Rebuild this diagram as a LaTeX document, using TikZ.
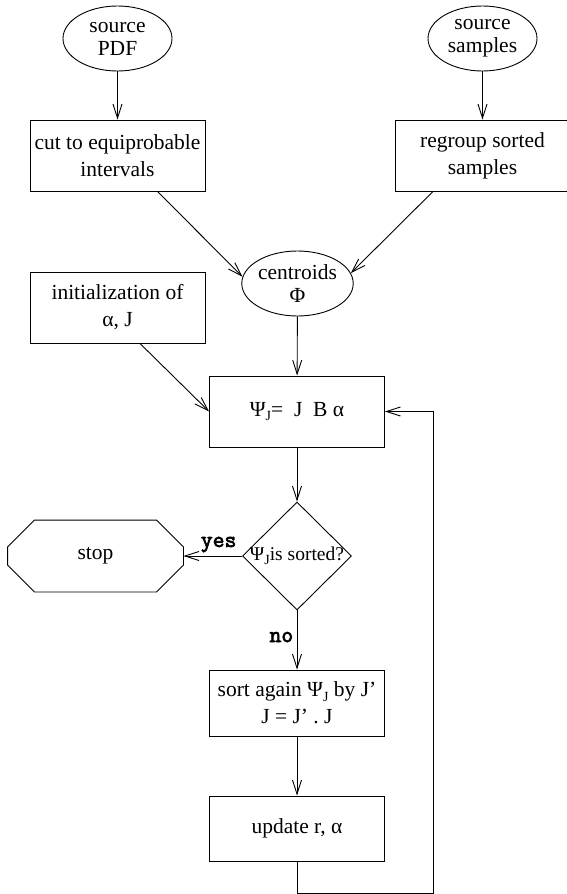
\documentclass[tikz,border=0pt]{standalone}
\usepackage{fontspec}
\setmainfont{Liberation Serif}
\newfontfamily\answerfont{Latin Modern Mono}[FakeBold=3]
\usetikzlibrary{arrows.meta,shapes.geometric}
\newcommand{\subj}{\raisebox{-0.5ex}{\fontsize{14}{14}\selectfont J}}

\begin{document}
\begin{tikzpicture}[x=1pt,y=-1pt,line width=0.9pt,>={Straight Barb[length=14pt,width=9pt]}]
	\tikzstyle{every node}=[font=\fontsize{21.5}{27}\selectfont]
	\tikzstyle{source}=[ellipse,draw=black,minimum width=109pt,minimum height=65pt,inner sep=0pt,align=center,font=\fontsize{21.5}{23}\selectfont]
	\tikzstyle{block}=[rectangle,draw=black,minimum width=175pt,minimum height=71pt,inner sep=2pt,align=center]
	\tikzstyle{decision}=[diamond,draw=black,minimum width=109pt,minimum height=108pt,inner sep=0pt]
	\tikzstyle{answer}=[font=\fontsize{23}{23}\selectfont\answerfont]
	\useasboundingbox (0,0) rectangle (567,894);
	\node[source] (pdf) at (117.5,38.5) {source\\PDF};
	\node[source] (samp) at (482.5,38.5) {source\\samples};
	\node[block] (cut) at (117.5,155.5) {cut to equiprobable\\intervals};
	\node[block] (regroup) at (482.5,155.5) {regroup sorted\\samples};
	\node[source] (centroids) at (297.5,283.5) {centroids\\Φ};
	\node[block] (init) at (117.5,307.5) {initialization of\\α, J};
	\node[block] (psi) at (297,411.5) {Ψ\subj= \ J \ B α};
	\node[decision,label={[font=\fontsize{19.5}{20}\selectfont,inner sep=0pt]center:Ψ\subj is sorted?}] (test) at (297,556) {};
	\node[minimum width=175pt,minimum height=71pt,inner sep=0pt] (stop) at (95.5,556) {stop};
	\node[block,minimum height=66pt] (sort) at (297,703) {sort again Ψ\subj\ by J’\\J = J’ . J};
	\node[block,minimum height=65pt] (update) at (297,828.5) {update r, α};
	\coordinate (loop) at (433,893);
	\draw ([xshift=27pt]stop.north west) -- ([xshift=-27pt]stop.north east) -- ([yshift=-27pt]stop.north east) -- ([yshift=27pt]stop.south east) -- ([xshift=-27pt]stop.south east) -- ([xshift=27pt]stop.south west) -- ([yshift=27pt]stop.south west) -- ([yshift=-27pt]stop.north west) -- cycle;
	\draw[->] (pdf) -- (cut);
	\draw[->] (samp) -- (regroup);
	\draw[->] (cut.-42.7) -- (centroids.173);
	\draw[->] (regroup.-144.4) -- (centroids.11);
	\draw[->] (centroids) -- (psi);
	\draw[->] (init.-58.8) -- (psi.west);
	\draw[->] (psi) -- (test);
	\draw[->] (test) -- node[answer,above,pos=0.4] {yes} (stop);
	\draw[->] (test) -- node[answer,left,pos=0.45] {no} (sort);
	\draw[->] (sort) -- (update);
	\draw[->] (update) |- (loop) |- (psi.east);
\end{tikzpicture}
\end{document}
